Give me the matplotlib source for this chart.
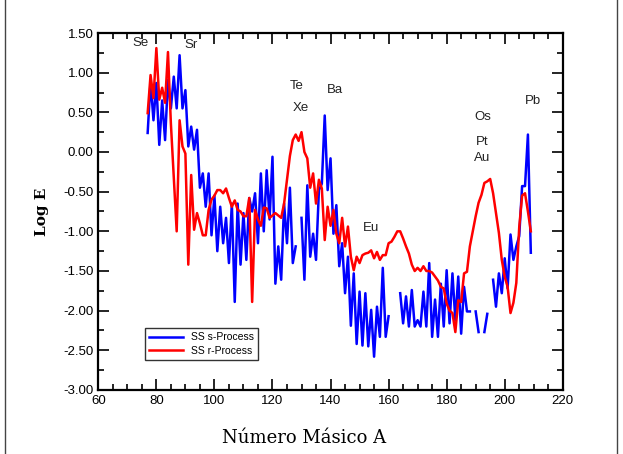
import numpy as np
import matplotlib
matplotlib.use("Agg")
import matplotlib.pyplot as plt
from matplotlib.lines import Line2D
from matplotlib.ticker import MultipleLocator, FormatStrFormatter

# mass numbers
mass_a = list(range(77, 210))

# SS s-process log abundances (nan = no value)
s_process = [
    0.24, 0.89, 0.40, 0.87, 0.09, 0.65, 0.15, 0.91, 0.55, 0.95,      # 77-86
    0.55, 1.22, 0.55, 0.78, 0.07, 0.32, 0.03, 0.28, -0.45, -0.27,    # 87-96
    -0.69, -0.27, -1.05, -0.55, -1.25, -0.69, -1.15, -0.83, -1.40, -0.65,  # 97-106
    -1.89, -0.65, -1.42, -0.77, -1.36, -0.58, -0.75, -0.52, -1.15, -0.27,  # 107-116
    -1.00, -0.23, -0.85, -0.06, -1.66, -1.19, -1.61, -0.65, -1.15, -0.45,  # 117-126
    -1.40, -1.19, np.nan, -0.83, -1.61, -0.42, -1.32, -1.03, -1.36, -0.48,  # 127-136
    -0.40, 0.46, -0.48, -0.08, -1.03, -0.67, -1.44, -1.15, -1.78, -1.32,   # 137-146
    -2.19, -1.53, -2.42, -1.76, -2.44, -1.78, -2.45, -1.99, -2.58, -1.95,  # 147-156
    -2.33, -1.46, -2.33, -2.07, np.nan, np.nan, np.nan, -1.78, -2.16, -1.82,  # 157-166
    -2.20, -1.74, -2.20, -2.12, -2.20, -1.76, -2.20, -1.40, -2.33, -1.86,  # 167-176
    -2.33, -1.66, -2.20, -1.49, -2.16, -1.53, -2.12, -1.57, -2.29, -1.70,  # 177-186
    -2.01, -2.01, np.nan, -2.01, -2.27, np.nan, -2.27, -2.04, np.nan, -1.61,  # 187-196
    -1.95, -1.53, -1.78, -1.34, -1.72, -1.04, -1.36, -1.19, -1.06, -0.43,  # 197-206
    -0.43, 0.22, -1.27,                                                    # 207-209
]

# SS r-process log abundances
r_process = [
    0.49, 0.97, 0.68, 1.31, 0.66, 0.81, 0.62, 1.26, 0.36, -0.32,     # 77-86
    -1.00, 0.40, 0.07, -0.02, -1.42, -0.29, -0.98, -0.77, -0.90, -1.05,  # 87-96
    -1.05, -0.73, -0.60, -0.55, -0.48, -0.48, -0.52, -0.46, -0.58, -0.69,  # 97-106
    -0.61, -0.73, -0.75, -0.81, -0.81, -0.58, -1.89, -0.73, -0.85, -0.93,  # 107-116
    -0.70, -0.71, -0.83, -0.80, -0.77, -0.80, -0.83, -0.65, -0.35, -0.05,  # 117-126
    0.15, 0.22, 0.14, 0.25, -0.00, -0.08, -0.45, -0.27, -0.65, -0.35,    # 127-136
    -0.46, -1.11, -0.69, -0.93, -0.73, -1.03, -1.15, -0.83, -1.19, -0.94,  # 137-146
    -1.32, -1.49, -1.32, -1.40, -1.30, -1.28, -1.27, -1.24, -1.34, -1.26,  # 147-156
    -1.36, -1.30, -1.30, -1.15, -1.13, -1.07, -1.00, -1.00, -1.09, -1.19,  # 157-166
    -1.28, -1.42, -1.50, -1.46, -1.50, -1.44, -1.50, -1.50, -1.52, -1.57,  # 167-176
    -1.62, -1.70, -1.72, -1.91, -2.00, -2.03, -2.27, -1.87, -1.89, -1.53,  # 177-186
    -1.51, -1.19, -1.00, -0.81, -0.64, -0.54, -0.39, -0.37, -0.34, -0.52,  # 187-196
    -0.77, -1.02, -1.36, -1.57, -1.70, -2.03, -1.90, -1.65, -0.95, -0.55,  # 197-206
    -0.52, -0.75, -1.00,                                                   # 207-209
]

# element labels (name, A, log E)
labels = [("Se", 74.5, 1.37), ("Sr", 92.0, 1.35), ("Te", 128.5, 0.83),
          ("Xe", 129.6, 0.55), ("Ba", 141.5, 0.78), ("Eu", 153.9, -0.96),
          ("Os", 192.3, 0.44), ("Pt", 192.3, 0.13), ("Au", 192.3, -0.08),
          ("Pb", 209.6, 0.64)]

plt.rcParams['font.family'] = ['Liberation Sans', 'DejaVu Sans']

fig = plt.figure(figsize=(6.23, 4.54), dpi=100)
ax = fig.add_axes([0.1578, 0.141, 0.7455, 0.7863])

ax.plot(mass_a, s_process, color='#0000ff', lw=1.8, label='SS s-Process')
ax.plot(mass_a, r_process, color='#ff0000', lw=1.8, label='SS r-Process')

for name, x, y in labels:
    ax.text(x, y, name, fontsize=9.5, ha='center', va='center', color='#222222')

ax.set_xlim(60, 220)
ax.set_ylim(-3.0, 1.5)
ax.xaxis.set_major_locator(MultipleLocator(20))
ax.xaxis.set_minor_locator(MultipleLocator(5))
ax.yaxis.set_major_locator(MultipleLocator(0.5))
ax.yaxis.set_minor_locator(MultipleLocator(0.25))
ax.yaxis.set_major_formatter(FormatStrFormatter('%.2f'))
ax.tick_params(which='both', direction='in', top=True, right=True,
               labelsize=9.5, width=1.2, colors='black')
ax.tick_params(which='major', length=8)
ax.tick_params(which='minor', length=4)
for sp in ax.spines.values():
    sp.set_linewidth(1.6)

ax.set_xlabel('Número Másico A', fontsize=13, family='DejaVu Serif')
ax.xaxis.set_label_coords(0.443, -0.11)
ax.set_ylabel('Log E', fontsize=11, family='DejaVu Serif', fontweight='bold', labelpad=10)

leg = ax.legend(loc='lower left', bbox_to_anchor=(0.09, 0.07), fontsize=7.5,
                frameon=True, fancybox=False, handlelength=3.2,
                borderpad=0.4, labelspacing=0.3)
leg.get_frame().set_edgecolor('black')
leg.get_frame().set_linewidth(1.0)

# outer border of the figure
fig.add_artist(Line2D([5/623, 5/623], [0, 1], color='#444444', lw=1.0))
fig.add_artist(Line2D([617/623, 617/623], [0, 1], color='#444444', lw=1.0))

fig.savefig('out.png', dpi=100)
